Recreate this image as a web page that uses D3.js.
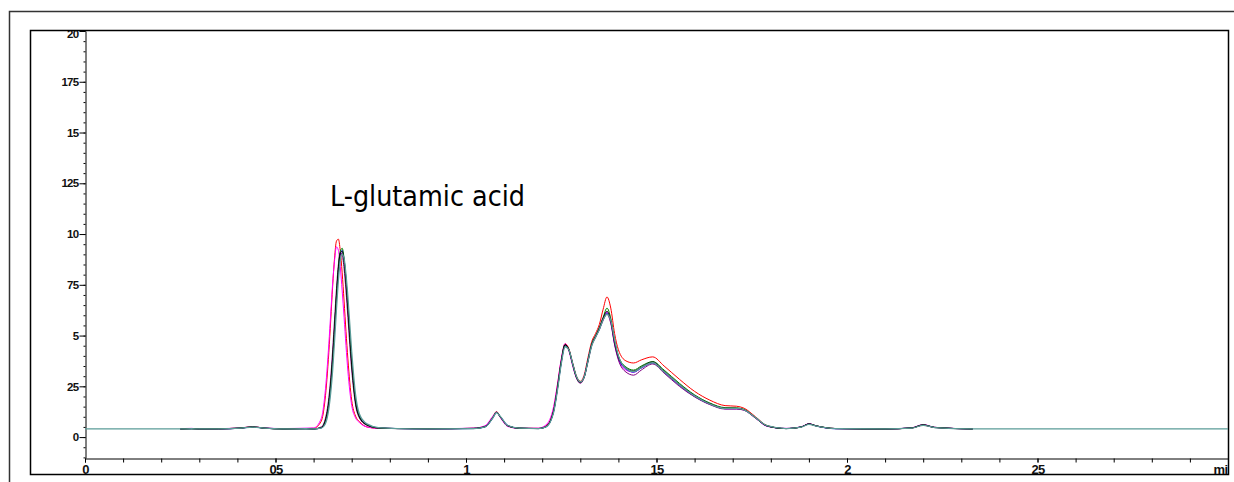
<!DOCTYPE html>
<html>
<head>
<meta charset="utf-8">
<script src="https://cdn.jsdelivr.net/npm/d3@7"></script>
<style>
    html, body { margin: 0; padding: 0; background: #fff; }
    svg { display: block; }
    .tick text { font-family: "Liberation Sans", Arial, sans-serif; font-weight: bold; fill: #111; }
</style>
</head>
<body>
<svg id="chart" width="1234" height="482"></svg>
<script>
// retention time grid (min)
const times = [
    0, 0.25, 0.28, 0.30, 0.35, 0.41, 0.44, 0.47, 0.52, 0.58,
    0.60, 0.62, 0.63, 0.64, 0.645, 0.65, 0.655, 0.66, 0.665, 0.67, 0.675, 0.68, 0.685, 0.69, 0.70, 0.71, 0.72, 0.74, 0.77,
    0.82, 0.90, 1.02, 1.05, 1.07, 1.08, 1.09, 1.11, 1.14,
    1.19, 1.21, 1.23, 1.24, 1.25, 1.26, 1.27, 1.28, 1.29, 1.30, 1.31, 1.32, 1.33, 1.34, 1.35, 1.36, 1.37, 1.38, 1.39, 1.40,
    1.42, 1.44, 1.46, 1.49, 1.52, 1.56, 1.60, 1.64, 1.68, 1.71, 1.73, 1.76, 1.79,
    1.84, 1.88, 1.90, 1.92, 1.97, 2.10, 2.17, 2.20, 2.23, 2.33, 3.0
];

// detector signal of each injection
const runRed = [
    null, 0.4, 0.42, 0.39, 0.41, 0.45, 0.51, 0.44, 0.41, 0.42,
    0.43, 0.78, 1.83, 4.17, 5.77, 7.42, 8.82, 9.65, 9.75, 9.18, 8.09, 6.7, 5.2, 3.85, 1.81, 1.04, 0.77, 0.5, 0.43,
    0.42, 0.41, 0.43, 0.53, 0.98, 1.26, 1.0, 0.55, 0.44,
    0.43, 0.55, 1.4, 2.55, 3.8, 4.6, 4.35, 3.65, 3.0, 2.75, 3.05, 3.9, 4.7, 5.1, 5.55, 6.3, 6.9, 6.35, 5.1, 4.3,
    3.75, 3.65, 3.8, 3.95, 3.5, 2.85, 2.25, 1.82, 1.55, 1.52, 1.42, 1.0, 0.57,
    0.42, 0.5, 0.64, 0.54, 0.42, 0.4, 0.45, 0.58, 0.47, 0.4, null
];
const runMagenta = [
    null, 0.41, 0.43, 0.4, 0.41, 0.46, 0.5, 0.45, 0.42, 0.44,
    0.45, 0.91, 2.14, 4.6, 6.1, 7.6, 8.7, 9.37, 9.2, 8.4, 7.2, 5.9, 4.5, 3.25, 1.56, 0.95, 0.72, 0.5, 0.43,
    0.42, 0.41, 0.44, 0.56, 1.02, 1.24, 0.96, 0.52, 0.43,
    0.44, 0.6, 1.5, 2.6, 3.85, 4.6, 4.25, 3.5, 2.9, 2.68, 2.98, 3.8, 4.6, 5.0, 5.4, 5.9, 6.15, 5.65, 4.6, 3.85,
    3.3, 3.2, 3.4, 3.65, 3.2, 2.55, 2.0, 1.62, 1.4, 1.4, 1.33, 0.93, 0.53,
    0.43, 0.51, 0.66, 0.55, 0.42, 0.4, 0.46, 0.62, 0.48, 0.4, null
];
const runBlue = [
    null, 0.4, 0.41, 0.4, 0.4, 0.44, 0.49, 0.44, 0.4, 0.41,
    0.4, 0.45, 0.7, 1.6, 2.45, 3.7, 5.2, 6.75, 8.1, 9.0, 9.2, 8.75, 7.8, 6.5, 3.8, 1.85, 1.05, 0.62, 0.46,
    0.42, 0.4, 0.42, 0.5, 0.92, 1.2, 1.02, 0.57, 0.44,
    0.42, 0.5, 1.25, 2.35, 3.65, 4.5, 4.3, 3.6, 2.95, 2.7, 2.95, 3.75, 4.55, 4.95, 5.3, 5.8, 6.1, 5.7, 4.6, 3.9,
    3.35, 3.2, 3.4, 3.65, 3.2, 2.55, 2.0, 1.62, 1.4, 1.4, 1.34, 0.95, 0.55,
    0.42, 0.5, 0.64, 0.54, 0.41, 0.4, 0.45, 0.59, 0.47, 0.4, null
];
const runPurple = [
    null, 0.4, 0.42, 0.41, 0.4, 0.45, 0.5, 0.45, 0.41, 0.42,
    0.41, 0.5, 0.85, 1.95, 2.95, 4.3, 5.8, 7.3, 8.5, 9.1, 8.95, 8.3, 7.2, 5.9, 3.3, 1.6, 0.95, 0.58, 0.45,
    0.42, 0.41, 0.43, 0.52, 0.96, 1.21, 0.98, 0.55, 0.43,
    0.42, 0.52, 1.3, 2.45, 3.75, 4.55, 4.3, 3.55, 2.9, 2.65, 2.92, 3.7, 4.5, 4.9, 5.3, 5.75, 6.05, 5.6, 4.55, 3.8,
    3.2, 3.05, 3.3, 3.6, 3.15, 2.5, 1.98, 1.6, 1.38, 1.38, 1.32, 0.93, 0.54,
    0.42, 0.5, 0.65, 0.55, 0.42, 0.4, 0.45, 0.6, 0.48, 0.4, null
];
const runGreen = [
    null, 0.4, 0.41, 0.4, 0.41, 0.45, 0.5, 0.44, 0.4, 0.41,
    0.4, 0.46, 0.74, 1.7, 2.6, 3.85, 5.35, 6.95, 8.3, 9.15, 9.3, 8.8, 7.75, 6.45, 3.7, 1.78, 1.02, 0.6, 0.45,
    0.42, 0.41, 0.42, 0.51, 0.94, 1.22, 1.0, 0.56, 0.44,
    0.42, 0.51, 1.28, 2.4, 3.7, 4.55, 4.3, 3.6, 2.95, 2.7, 2.96, 3.78, 4.6, 5.0, 5.4, 5.9, 6.35, 5.85, 4.75, 4.0,
    3.45, 3.3, 3.5, 3.72, 3.3, 2.65, 2.08, 1.68, 1.45, 1.44, 1.36, 0.96, 0.56,
    0.42, 0.5, 0.64, 0.55, 0.42, 0.4, 0.45, 0.6, 0.47, 0.4, null
];
const runBlack = [
    null, 0.4, 0.41, 0.4, 0.4, 0.44, 0.5, 0.44, 0.4, 0.41,
    0.4, 0.47, 0.76, 1.74, 2.66, 3.93, 5.43, 6.97, 8.28, 9.06, 9.15, 8.62, 7.6, 6.3, 3.6, 1.72, 1.0, 0.6, 0.45,
    0.42, 0.41, 0.43, 0.52, 0.95, 1.22, 1.0, 0.55, 0.44,
    0.42, 0.52, 1.3, 2.4, 3.7, 4.55, 4.3, 3.6, 2.95, 2.7, 2.95, 3.75, 4.55, 4.95, 5.35, 5.85, 6.2, 5.75, 4.7, 3.95,
    3.4, 3.25, 3.45, 3.7, 3.25, 2.6, 2.05, 1.65, 1.42, 1.42, 1.35, 0.95, 0.55,
    0.42, 0.5, 0.65, 0.55, 0.42, 0.4, 0.45, 0.6, 0.48, 0.4, null
];
const runTeal = [
    0.4, 0.4, 0.41, 0.4, 0.4, 0.44, 0.49, 0.44, 0.4, 0.41,
    0.4, 0.44, 0.62, 1.4, 2.2, 3.3, 4.75, 6.3, 7.7, 8.7, 9.0, 8.8, 8.0, 6.9, 4.2, 2.1, 1.15, 0.65, 0.47,
    0.42, 0.4, 0.42, 0.5, 0.93, 1.2, 1.02, 0.57, 0.44,
    0.42, 0.5, 1.22, 2.3, 3.6, 4.45, 4.3, 3.62, 2.98, 2.72, 2.95, 3.72, 4.5, 4.92, 5.3, 5.78, 6.05, 5.75, 4.8, 4.0,
    3.38, 3.22, 3.42, 3.66, 3.22, 2.58, 2.03, 1.63, 1.41, 1.41, 1.34, 0.96, 0.56,
    0.42, 0.49, 0.63, 0.54, 0.42, 0.4, 0.44, 0.58, 0.47, 0.4, 0.4
];

const runs = [runRed, runMagenta, runBlue, runPurple, runGreen, runBlack, runTeal];
const runColors = ["#ff0000", "#ff00ff", "#0000ff", "#800080", "#008000", "#000000", "#5b9c98"];

// axis ticks and their labels as printed
const yTicks = [0, 2.5, 5, 7.5, 10, 12.5, 15, 17.5, 20];
const yLabels = ["0", "25", "5", "75", "10", "125", "15", "175", "20"];
const xTicks = [0, 0.5, 1, 1.5, 2, 2.5, 3];
const xLabels = ["0", "05", "1", "15", "2", "25", "mi"];

const peakLabel = "L-glutamic acid";

const svg = d3.select("#chart");

const x = d3.scaleLinear().domain([0, 3]).range([85, 1228]);
const y = d3.scaleLinear().domain([-1.03, 20]).range([458, 31]);

// frames
svg.append("path")
    .attr("d", "M9.5,482 V11.5 H1234")
    .attr("fill", "none")
    .attr("stroke", "#333")
    .attr("stroke-width", 1.5);

svg.append("rect")
    .attr("x", 30.5).attr("y", 30.5)
    .attr("width", 1198).attr("height", 444)
    .attr("fill", "none")
    .attr("stroke", "#000")
    .attr("stroke-width", 1.5);

const defs = svg.append("defs");
defs.append("clipPath").attr("id", "plot-clip")
    .append("rect").attr("x", 85).attr("y", 31).attr("width", 1143).attr("height", 427);
defs.append("clipPath").attr("id", "frame-clip")
    .append("rect").attr("x", 31).attr("y", 31).attr("width", 1197).attr("height", 443);

// axes sit in an untransformed clipped group so the clip stays in page coordinates
const gAxes = svg.append("g").attr("clip-path", "url(#frame-clip)");

// y axis
const yMinor = gAxes.append("g")
    .attr("transform", "translate(85.5,0)")
    .call(d3.axisLeft(y).tickValues(d3.range(-1, 20.01, 0.5)).tickSize(2).tickFormat(""));
yMinor.select(".domain").remove();

const yAxis = gAxes.append("g")
    .attr("transform", "translate(85.5,0)")
    .call(d3.axisLeft(y).tickValues(yTicks).tickSize(6).tickSizeOuter(0).tickPadding(1)
        .tickFormat((d, i) => yLabels[i]));
yAxis.selectAll("text").style("font-size", "11.5px").attr("letter-spacing", "-0.7");
// top label is cut by the frame as in the print
yAxis.selectAll("text").filter(d => d === 20).attr("dy", "0.55em");

// x axis
gAxes.append("g")
    .attr("transform", "translate(0,458.5)")
    .call(d3.axisBottom(x).tickValues(d3.range(0, 3.001, 0.1)).tickSize(4).tickSizeOuter(0).tickFormat(""));

const xAxis = gAxes.append("g")
    .attr("transform", "translate(0,458.5)")
    .call(d3.axisBottom(x).tickValues(xTicks).tickSize(4).tickSizeOuter(0).tickPadding(2)
        .tickFormat((d, i) => xLabels[i]));
xAxis.select(".domain").remove();
xAxis.selectAll("text").style("font-size", "13px").attr("letter-spacing", "-0.6");
// last label is squeezed against the right frame
xAxis.selectAll("text").filter(d => d === 3).attr("text-anchor", "end").attr("x", -1);

gAxes.selectAll(".domain, .tick line").attr("stroke", "#000");

// chromatograms
const line = d3.line()
    .defined(d => d[1] != null)
    .x(d => x(d[0]))
    .y(d => y(d[1]))
    .curve(d3.curveMonotoneX);

const gRuns = svg.append("g").attr("clip-path", "url(#plot-clip)");
runs.forEach((run, i) => {
    gRuns.append("path")
        .datum(times.map((t, k) => [t, run[k]]))
        .attr("d", line)
        .attr("fill", "none")
        .attr("stroke", runColors[i])
        .attr("stroke-width", i === runs.length - 1 ? 1.3 : 1);
});

// peak annotation
svg.append("text")
    .attr("x", 330)
    .attr("y", 206)
    .attr("textLength", 195)
    .attr("lengthAdjust", "spacingAndGlyphs")
    .style("font-family", "'Liberation Sans Narrow', 'DejaVu Sans Condensed', 'Liberation Sans', sans-serif")
    .style("font-size", "29px")
    .style("fill", "#000")
    .text(peakLabel);
</script>
</body>
</html>
